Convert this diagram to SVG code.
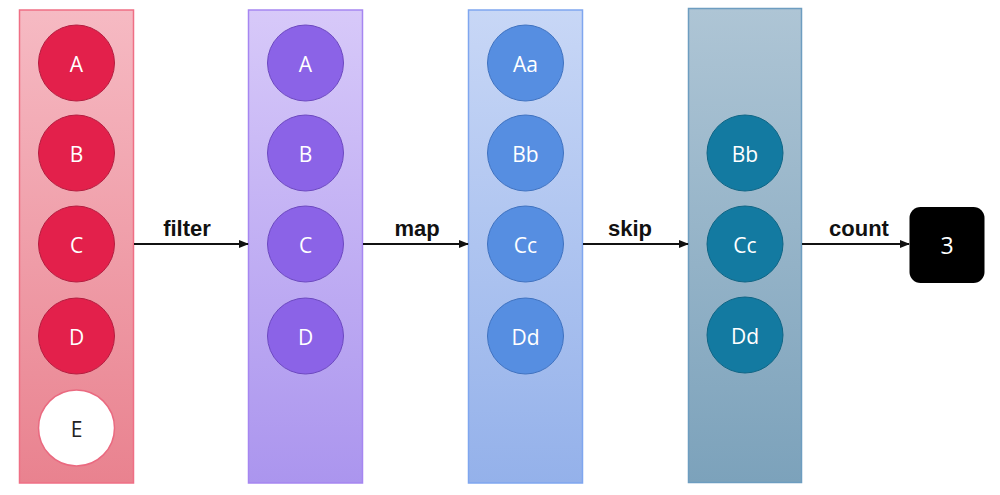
<svg xmlns="http://www.w3.org/2000/svg" width="1000" height="495" viewBox="0 0 1000 495">
<defs>
<linearGradient id="g1" x1="0" y1="0" x2="0" y2="1"><stop offset="0" stop-color="#f6bac3"/><stop offset="1" stop-color="#e9828f"/></linearGradient>
<linearGradient id="g2" x1="0" y1="0" x2="0" y2="1"><stop offset="0" stop-color="#d7c9f9"/><stop offset="1" stop-color="#ab95ee"/></linearGradient>
<linearGradient id="g3" x1="0" y1="0" x2="0" y2="1"><stop offset="0" stop-color="#c8d7f6"/><stop offset="1" stop-color="#94b1ea"/></linearGradient>
<linearGradient id="g4" x1="0" y1="0" x2="0" y2="1"><stop offset="0" stop-color="#aec5d5"/><stop offset="1" stop-color="#7ca2bb"/></linearGradient>
<marker id="arr" markerWidth="10" markerHeight="8" refX="9" refY="4" orient="auto" markerUnits="userSpaceOnUse"><path d="M0,0 L10,4 L0,8 z" fill="#111"/></marker>
</defs>
<style>
.lbl{font-family:"Open Sans","Liberation Sans",sans-serif;font-size:21px;fill:#fff;text-anchor:middle;dominant-baseline:central}
.op{font-family:"Liberation Sans",Arial,sans-serif;font-size:22px;font-weight:bold;fill:#111;text-anchor:middle}
.conn{stroke:#111;stroke-width:2;fill:none;marker-end:url(#arr)}
.c1{fill:#e3204b;stroke:#b51c3f;stroke-width:1}
.c2{fill:#8b63e7;stroke:#6c48c0;stroke-width:1}
.c3{fill:#568ee1;stroke:#3f72c0;stroke-width:1}
.c4{fill:#137aa1;stroke:#0f6585;stroke-width:1}
</style>
<rect width="1000" height="495" fill="#fff"/>
<g id="col1">
<rect x="19.5" y="10" width="114" height="473" fill="url(#g1)" stroke="#ef6f85" stroke-width="1.5"/>
<g id="n1A"><circle class="c1" cx="76.5" cy="63" r="38"/><text class="lbl" x="76.5" y="64">A</text></g>
<g id="n1B"><circle class="c1" cx="76.5" cy="153" r="38"/><text class="lbl" x="76.5" y="154">B</text></g>
<g id="n1C"><circle class="c1" cx="76.5" cy="244" r="38"/><text class="lbl" x="76.5" y="245">C</text></g>
<g id="n1D"><circle class="c1" cx="76.5" cy="336" r="38"/><text class="lbl" x="76.5" y="337">D</text></g>
<g id="n1E"><circle cx="76.5" cy="428" r="38" fill="#fff" stroke="#ea6a80" stroke-width="1.5"/><text class="lbl" x="76.5" y="429" style="fill:#222">E</text></g>
</g>
<g id="col2">
<rect x="248.5" y="10" width="114" height="473" fill="url(#g2)" stroke="#a686f1" stroke-width="1.5"/>
<g id="n2A"><circle class="c2" cx="305.5" cy="63" r="38"/><text class="lbl" x="305.5" y="64">A</text></g>
<g id="n2B"><circle class="c2" cx="305.5" cy="153" r="38"/><text class="lbl" x="305.5" y="154">B</text></g>
<g id="n2C"><circle class="c2" cx="305.5" cy="244" r="38"/><text class="lbl" x="305.5" y="245">C</text></g>
<g id="n2D"><circle class="c2" cx="305.5" cy="336" r="38"/><text class="lbl" x="305.5" y="337">D</text></g>
</g>
<g id="col3">
<rect x="468.5" y="10" width="114" height="473" fill="url(#g3)" stroke="#7fa6ef" stroke-width="1.5"/>
<g id="n3A"><circle class="c3" cx="525.5" cy="63" r="38"/><text class="lbl" x="525.5" y="64">Aa</text></g>
<g id="n3B"><circle class="c3" cx="525.5" cy="153" r="38"/><text class="lbl" x="525.5" y="154">Bb</text></g>
<g id="n3C"><circle class="c3" cx="525.5" cy="244" r="38"/><text class="lbl" x="525.5" y="245">Cc</text></g>
<g id="n3D"><circle class="c3" cx="525.5" cy="336" r="38"/><text class="lbl" x="525.5" y="337">Dd</text></g>
</g>
<g id="col4">
<rect x="688.5" y="8.5" width="113" height="474" fill="url(#g4)" stroke="#6d9dc0" stroke-width="1.5"/>
<g id="n4B"><circle class="c4" cx="745" cy="153" r="38"/><text class="lbl" x="745" y="154">Bb</text></g>
<g id="n4C"><circle class="c4" cx="745" cy="244" r="38"/><text class="lbl" x="745" y="245">Cc</text></g>
<g id="n4D"><circle class="c4" cx="745" cy="335" r="38"/><text class="lbl" x="745" y="336">Dd</text></g>
</g>
<g id="result">
<rect x="909.5" y="207" width="75" height="76" rx="11" fill="#000"/>
<text class="lbl" x="947" y="245" style="font-size:23px">3</text>
</g>
<g id="connectors">
<line class="conn" x1="134" y1="244" x2="248" y2="244"/>
<line class="conn" x1="363" y1="244" x2="468" y2="244"/>
<line class="conn" x1="583" y1="244" x2="688" y2="244"/>
<line class="conn" x1="802" y1="244" x2="909" y2="244"/>
<text class="op" x="187" y="236">filter</text>
<text class="op" x="417" y="236">map</text>
<text class="op" x="630" y="236">skip</text>
<text class="op" x="859" y="236">count</text>
</g>
</svg>
